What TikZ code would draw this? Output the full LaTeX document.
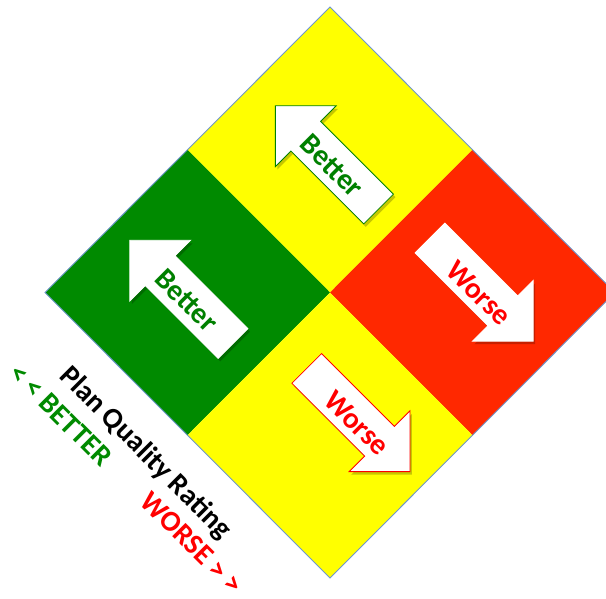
\documentclass[tikz,border=0pt]{standalone}
\usepackage{fontspec}
\setmainfont{Carlito}
\usetikzlibrary{calc}
\definecolor{qyellow}{RGB}{255,255,0}
\definecolor{qgreen}{RGB}{0,138,0}
\definecolor{qred}{RGB}{255,40,0}
\definecolor{edgeblue}{RGB}{110,150,205}
\definecolor{txtgreen}{RGB}{0,128,0}
\definecolor{txtred}{RGB}{255,0,0}
\tikzset{
  myarrow/.pic={\path[pic actions] (0,-21) -- (103,-21) -- (103,-43) -- (146,0) -- (103,43) -- (103,21) -- (0,21) -- cycle;},
  shadowarrow/.style={fill=black, fill opacity=0.22, draw=none},
  whitearrow/.style={fill=white, line width=0.8pt, line join=miter},
  arrowtext/.style={font=\bfseries\fontsize{29.5}{30}\selectfont, rotate=-45, inner sep=0pt},
  sidetext/.style={font=\bfseries\fontsize{29}{30}\selectfont, rotate=-45, inner sep=0pt},
}
\begin{document}
\begin{tikzpicture}[x=1pt,y=-1pt]
\useasboundingbox (0,0) rectangle (606,598);
\clip (0,0) rectangle (606,598);
% diamond corners
\coordinate (T) at (330,7);
\coordinate (L) at (45,292.5);
\coordinate (B) at (330,578);
\coordinate (R) at (615,292.5);
\coordinate (C) at (330,292.5);
\coordinate (TL) at ($(T)!0.5!(L)$);
\coordinate (TR) at ($(T)!0.5!(R)$);
\coordinate (BL) at ($(B)!0.5!(L)$);
\coordinate (BR) at ($(B)!0.5!(R)$);
% quadrants
\fill[qyellow] (T) -- (TR) -- (C) -- (TL) -- cycle;
\fill[qgreen] (TL) -- (C) -- (BL) -- (L) -- cycle;
\fill[qred] (TR) -- (R) -- (BR) -- (C) -- cycle;
\fill[qyellow] (C) -- (BR) -- (B) -- (BL) -- cycle;
\draw[edgeblue, line width=0.9pt] (T) -- (R) -- (B) -- (L) -- cycle;
% arrow tails
\coordinate (A1) at (378.6,209);
\coordinate (A2) at (233,343.5);
\coordinate (A3) at (430,238);
\coordinate (A4) at (306.7,368.4);
% shadows
\pic[shadowarrow, rotate=135] at ($(A1)+(2,3)$) {myarrow};
\pic[shadowarrow, rotate=135] at ($(A2)+(2,3)$) {myarrow};
\pic[shadowarrow, rotate=-45] at ($(A3)+(2,3)$) {myarrow};
\pic[shadowarrow, rotate=-45] at ($(A4)+(2,3)$) {myarrow};
% arrows
\pic[whitearrow, draw=txtgreen, rotate=135] at (A1) {myarrow};
\pic[whitearrow, draw=white, rotate=135] at (A2) {myarrow};
\pic[whitearrow, draw=white, rotate=-45] at (A3) {myarrow};
\pic[whitearrow, draw=txtred, rotate=-45] at (A4) {myarrow};
% arrow texts
\node[arrowtext, text=txtgreen] (t1) at (332,166) {Better};
\node[arrowtext, text=txtgreen] (t2) at (186.5,300.5) {Better};
\node[arrowtext, text=txtred] (t3) at (479,293) {Worse};
\node[arrowtext, text=txtred] (t4) at (357,423) {Worse};
% side labels
\node[sidetext, text=black] (pqr) at (145,453) {Plan Quality Rating};
\node[sidetext, text=qgreen] (better) at (61,415) {< < BETTER};
\node[sidetext, text=txtred] (worse) at (192,543) {WORSE > >};
\end{tikzpicture}
\end{document}
